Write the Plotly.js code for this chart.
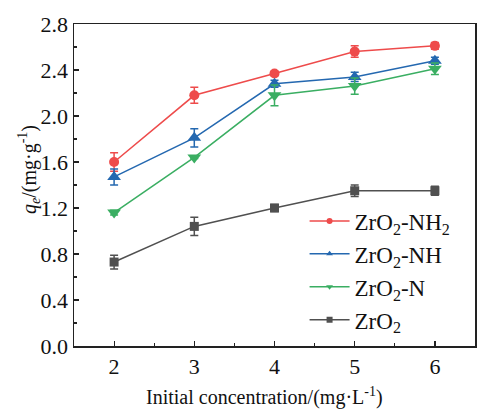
<!DOCTYPE html>
<html>
<head>
<meta charset="utf-8">
<script src="https://cdn.plot.ly/plotly-3.0.1.min.js"></script>
<style>html,body{margin:0;padding:0;background:#fff;}#chart{width:477px;height:416px;}</style>
</head>
<body>
<div id="chart"></div>
<script>
const concentration = [2, 3, 4, 5, 6];
const seriesNames = ['ZrO<sub>2</sub>-NH<sub>2</sub>', 'ZrO<sub>2</sub>-NH', 'ZrO<sub>2</sub>-N', 'ZrO<sub>2</sub>'];
const qNH2 = [1.60, 2.18, 2.37, 2.56, 2.61];
const errNH2 = [0.08, 0.07, 0.02, 0.05, 0.03];
const qNH = [1.47, 1.81, 2.28, 2.34, 2.48];
const errNH = [0.07, 0.08, 0.03, 0.04, 0.03];
const qN = [1.16, 1.64, 2.18, 2.26, 2.41];
const errN = [0.02, 0.01, 0.09, 0.07, 0.05];
const qZrO2 = [0.73, 1.04, 1.20, 1.35, 1.35];
const errZrO2 = [0.06, 0.08, 0.03, 0.05, 0.04];
const xTicks = [2, 3, 4, 5, 6];
const yTicks = [0.0, 0.4, 0.8, 1.2, 1.6, 2.0, 2.4, 2.8];
const xTitle = 'Initial concentration/(mg·L<sup>-1</sup>)';
const yTitle = '<i>q</i><sub><i>e</i></sub>/(mg·g<sup>-1</sup>)';

const colors = ['#EE4B4B', '#2468B0', '#3AAE62', '#505050'];
const symbols = ['circle', 'triangle-up', 'triangle-down', 'square'];
const sizes = [10, 12, 12, 9];
const values = [qNH2, qNH, qN, qZrO2];
const errors = [errNH2, errNH, errN, errZrO2];

const traces = [];
values.forEach((v, i) => {
  traces.push({
    x: concentration, y: v, type: 'scatter', mode: 'lines+markers',
    name: seriesNames[i], showlegend: false,
    line: {color: colors[i], width: 1.5},
    marker: {color: colors[i], symbol: symbols[i], size: sizes[i]},
    error_y: {type: 'data', array: errors[i], visible: true, color: colors[i], thickness: 1.5, width: 4}
  });
});
values.forEach((v, i) => {
  traces.push({
    x: [null], y: [null], type: 'scatter', mode: 'lines+markers',
    name: seriesNames[i], showlegend: true, legendgroup: 'g' + i,
    line: {color: colors[i], width: 1.5},
    marker: {color: colors[i], symbol: symbols[i], size: 6}
  });
});

const fam = 'Liberation Serif';
const font = {family: fam, color: '#111', size: 20};
const layout = {
  width: 477, height: 416,
  margin: {l: 74, r: 2, t: 24, b: 70},
  paper_bgcolor: '#fff', plot_bgcolor: '#fff',
  font: font,
  showlegend: true,
  legend: {x: 0.575, y: 0.455, xanchor: 'left', yanchor: 'top', bgcolor: 'rgba(0,0,0,0)',
    font: {family: fam, size: 23, color: '#111'}, tracegroupgap: 0, traceorder: 'grouped', itemwidth: 40},
  xaxis: {
    range: [1.5, 6.5], tickvals: xTicks, ticks: 'inside', ticklen: 5, tickwidth: 1.2,
    tickcolor: '#222', showline: true, linecolor: '#222', linewidth: 1.5, mirror: true,
    showgrid: false, zeroline: false,
    minor: {dtick: 0.5, ticks: 'inside', ticklen: 3, tickcolor: '#222', showgrid: false},
    tickfont: {family: fam, size: 22, color: '#111'}
  },
  yaxis: {
    range: [0, 2.8], tickvals: yTicks, ticktext: yTicks.map(v => v.toFixed(1)),
    ticks: 'inside', ticklen: 5, tickwidth: 1.2,
    tickcolor: '#222', showline: true, linecolor: '#222', linewidth: 1.5, mirror: true,
    showgrid: false, zeroline: false,
    minor: {dtick: 0.2, ticks: 'inside', ticklen: 3, tickcolor: '#222', showgrid: false},
    tickfont: {family: fam, size: 22, color: '#111'}
  },
  annotations: [
    {text: xTitle, xref: 'paper', yref: 'paper', x: 0.476, y: -0.158, xanchor: 'center', yanchor: 'middle',
     showarrow: false, font: {family: fam, size: 20, color: '#111'}},
    {text: yTitle, xref: 'paper', yref: 'paper', x: -0.112, y: 0.547, xanchor: 'center', yanchor: 'middle',
     textangle: -90, showarrow: false, font: {family: fam, size: 20, color: '#111'}}
  ]
};
Plotly.newPlot('chart', traces, layout, {displayModeBar: false, staticPlot: true});
</script>
</body>
</html>
